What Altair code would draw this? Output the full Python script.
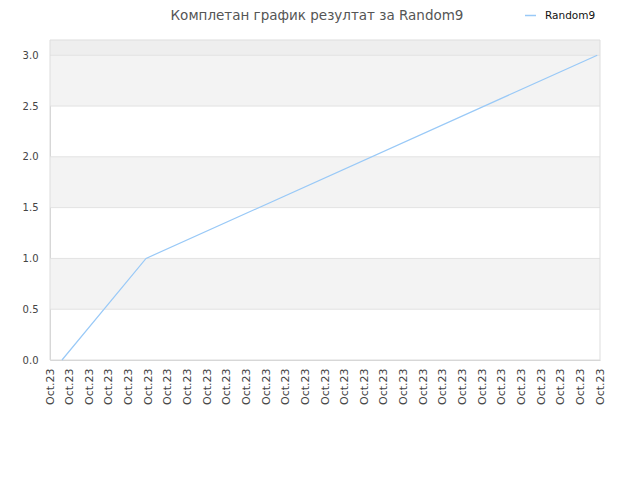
import altair as alt
import pandas as pd

title = "Комплетан график резултат за Random9"
series_name = "Random9"
x_pos = [0.61, 4.89, 27.86]
y_vals = [0.0, 1.0, 3.0]
tick_positions = list(range(29))
tick_label = "Oct.23"
band_lo = [0.5, 1.5, 2.5, 3.0]
band_hi = [1.0, 2.0, 3.0, 3.15]
band_col = ["#f3f3f3", "#f3f3f3", "#f3f3f3", "#eeeeee"]
grid_vals = [0.5, 1.0, 1.5, 2.0, 2.5, 3.0]

line_df = pd.DataFrame({"x": x_pos, "y": y_vals, "s": [series_name] * 3})
band_df = pd.DataFrame({"lo": band_lo, "hi": band_hi, "c": band_col})
grid_df = pd.DataFrame({"g": grid_vals})
title_df = pd.DataFrame({"t": [title]})

xs = alt.Scale(domain=[0, 28], nice=False, zero=False)
ys = alt.Scale(domain=[0, 3.15], nice=False, zero=True)

bands = alt.Chart(band_df).mark_rect().encode(
    x=alt.value(0), x2=alt.value(550),
    y=alt.Y("lo:Q", scale=ys), y2="hi:Q",
    fill=alt.Fill("c:N", scale=None, legend=None),
)
grid = alt.Chart(grid_df).mark_rule(color="#e2e2e2", strokeWidth=1).encode(
    x=alt.value(0), x2=alt.value(550), y=alt.Y("g:Q", scale=ys)
)
border = alt.Chart(pd.DataFrame({"a": [0]})).mark_rect(
    fill=None, stroke="#dddddd", strokeWidth=1
).encode(x=alt.value(0), x2=alt.value(550), y=alt.value(0), y2=alt.value(320))

title_mark = alt.Chart(title_df).mark_text(
    font="DejaVu Sans", fontSize=13.5, color="#555555", align="center",
    baseline="top",
).encode(text="t:N", x=alt.value(267), y=alt.value(-31))

line = alt.Chart(line_df).mark_line(strokeWidth=1.2).encode(
    x=alt.X("x:Q", scale=xs, axis=alt.Axis(
        values=tick_positions, labelExpr=f"'{tick_label}'", labelAngle=270,
        labelAlign="right", labelBaseline="middle", title=None, grid=False,
        domainColor="#d0d0d0", tickColor="#d0d0d0", tickSize=0, labelPadding=8,
        labelFont="DejaVu Sans", labelFontSize=11, labelColor="#444444",
    )),
    y=alt.Y("y:Q", scale=ys, axis=alt.Axis(
        values=[0, 0.5, 1.0, 1.5, 2.0, 2.5, 3.0], format=".1f", title=None,
        grid=False, domainColor="#d0d0d0", tickSize=0, labelPadding=12,
        labelFont="DejaVu Sans", labelFontSize=10, labelColor="#444444",
    )),
    color=alt.Color("s:N", scale=alt.Scale(range=["#99c9f7"]), legend=alt.Legend(
        title=None, orient="none", legendX=474, legendY=-31, symbolType="stroke",
        symbolSize=120, symbolStrokeWidth=1.5, labelOffset=8, labelFont="DejaVu Sans",
        labelFontSize=10.5, labelColor="#111111",
    )),
)

chart = alt.layer(bands, grid, border, title_mark, line).properties(
    width=550, height=320,
    autosize=alt.AutoSizeParams(type="none"),
    padding={"left": 42, "top": 32, "right": 32, "bottom": 112},
).configure_view(stroke=None)

chart.save("out.html", embed_options={"renderer": "svg", "actions": False})
